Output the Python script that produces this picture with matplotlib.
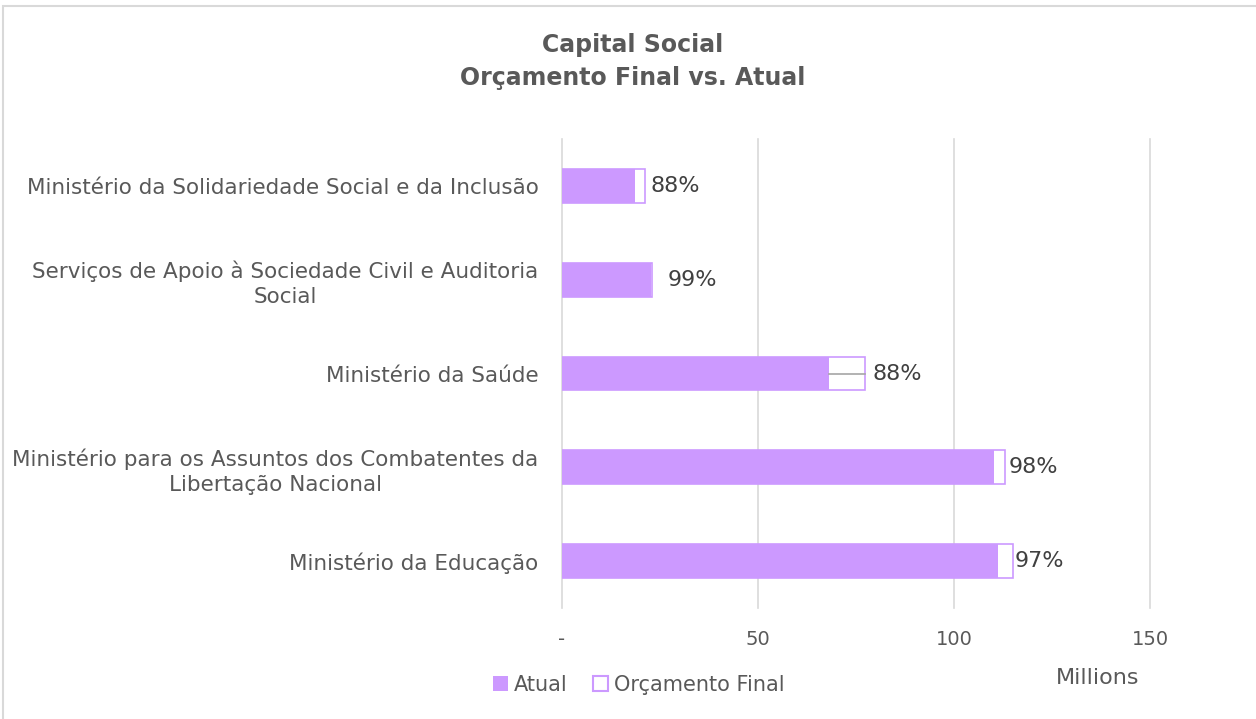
import matplotlib
matplotlib.use("Agg")
import matplotlib.pyplot as plt
from matplotlib.patches import Rectangle, Patch

categories = [
    "Ministério da Educação",
    "Ministério para os Assuntos dos Combatentes da\nLibertação Nacional",
    "Ministério da Saúde",
    "Serviços de Apoio à Sociedade Civil e Auditoria\nSocial",
    "Ministério da Solidariedade Social e da Inclusão",
]
atual = [111.3, 110.3, 68.1, 22.8, 18.5]
orcamento_final = [115.0, 113.1, 77.3, 23.0, 21.2]
pct_labels = ["97%", "98%", "88%", "99%", "88%"]
xticks = [0, 50, 100, 150]
xticklabels = ["-", "50", "100", "150"]

FONT = ["DejaVu Sans"]
plt.rcParams["font.family"] = FONT
TXT = "#595959"
PURPLE = "#CC99FF"

fig = plt.figure(figsize=(12.56, 7.19), dpi=100)
# outer chart border
fig.patches.append(Rectangle((3 / 1256, -0.01), 1.02, 1 - 6 / 719 + 0.01,
                             transform=fig.transFigure, fill=False,
                             edgecolor="#D9D9D9", linewidth=1.5))

ax = fig.add_axes([562 / 1256, 1 - 608 / 719, (1150 - 562) / 1256, (608 - 139) / 719])
y = list(range(len(categories)))
h = 0.36
ax.barh(y, orcamento_final, height=h, color="white", edgecolor=PURPLE, linewidth=1.2, zorder=2)
ax.barh(y, atual, height=h, color=PURPLE, edgecolor="none", zorder=3)
# thin grey line inside the Saúde bar
ax.plot([atual[2], orcamento_final[2]], [y[2], y[2]], color="#A6A6A6", linewidth=1.2, zorder=4)

offsets = [0.5, 0.8, 2.0, 4.0, 1.5]
for yi, f, lab, off in zip(y, orcamento_final, pct_labels, offsets):
    ax.text(f + off, yi, lab, va="center", ha="left", fontsize=16, color="#404040")

ax.set_xlim(0, 150)
ax.set_ylim(-0.5, len(categories) - 0.5)
ax.set_xticks(xticks)
ax.set_xticklabels(xticklabels, fontsize=14, color=TXT)
ax.set_yticks(y)
ax.set_yticklabels(categories, fontsize=15.5, color=TXT, linespacing=1.3)
for t in ax.get_yticklabels():
    t.set_multialignment("center")
ax.tick_params(axis="y", length=0, pad=17)
ax.tick_params(axis="x", length=0, pad=16)
ax.grid(axis="x", color="#D9D9D9", linewidth=1.2, zorder=0)
for gl in ax.get_xgridlines():
    gl.set_clip_on(False)
ax.set_axisbelow(True)
for s in ax.spines.values():
    s.set_visible(False)

fig.text(1098 / 1256, 1 - 678 / 719, "Millions", ha="center", va="center", fontsize=16, color=TXT)

fig.text(633 / 1256, 1 - 45 / 719, "Capital Social", ha="center", va="center",
         fontsize=17, fontweight="bold", color=TXT)
fig.text(633 / 1256, 1 - 78 / 719, "Orçamento Final vs. Atual", ha="center", va="center",
         fontsize=17, fontweight="bold", color=TXT)

handles = [Patch(facecolor=PURPLE, edgecolor="none", label="Atual"),
           Patch(facecolor="white", edgecolor=PURPLE, linewidth=1.5, label="Orçamento Final")]
fig.legend(handles=handles, loc="center", bbox_to_anchor=(639 / 1256, 1 - 685 / 719),
           ncol=2, frameon=False, fontsize=15, handlelength=0.7, handleheight=0.7,
           handletextpad=0.3, columnspacing=1.2, labelcolor=TXT)

fig.savefig("out.png", dpi=100)
